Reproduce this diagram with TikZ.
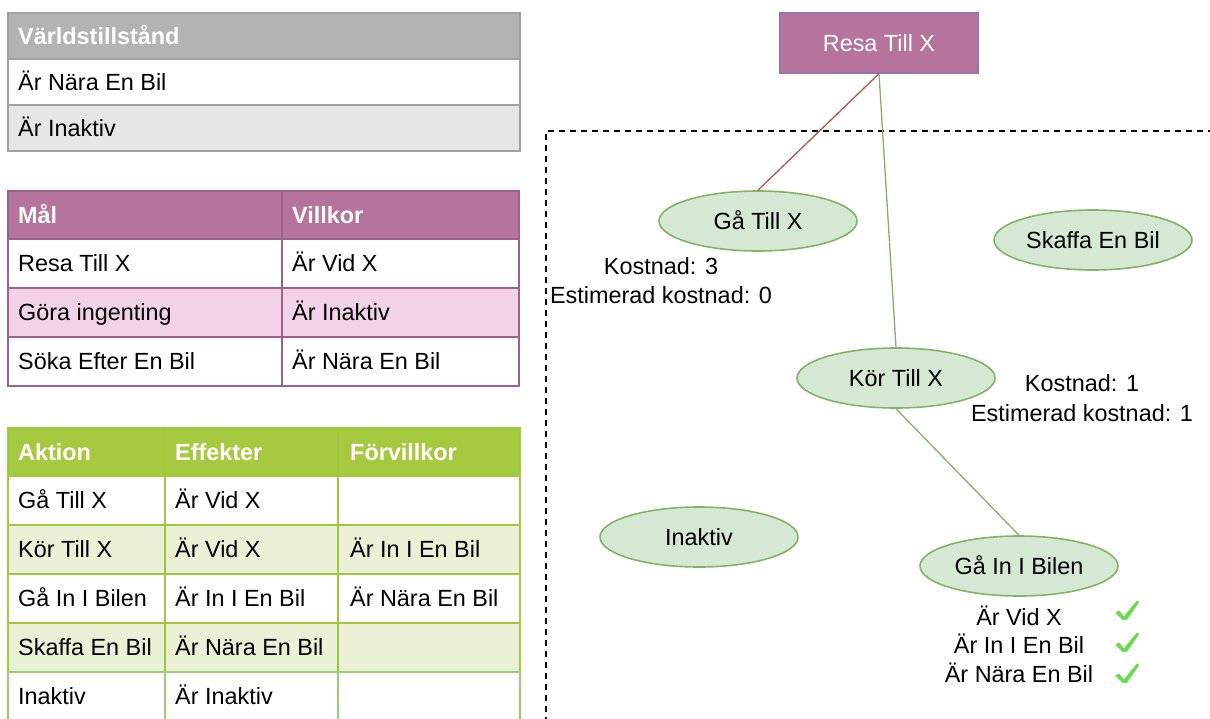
\documentclass[tikz,border=0pt]{standalone}
\usepackage{fontspec}
\setmainfont{Liberation Sans}
\usetikzlibrary{shapes.geometric}
\definecolor{hdgray}{HTML}{B3B3B3}
\definecolor{rowgray}{HTML}{E6E6E6}
\definecolor{bdgray}{HTML}{A0A0A0}
\definecolor{mauve}{HTML}{B5739D}
\definecolor{mauvebd}{HTML}{9E6189}
\definecolor{pinkrow}{HTML}{F2D2E6}
\definecolor{grhead}{HTML}{A6C93F}
\definecolor{grrow}{HTML}{EBF1D6}
\definecolor{grbd}{HTML}{9FC93A}
\definecolor{grbdlight}{HTML}{97D077}
\definecolor{ellfill}{HTML}{D5E8D4}
\definecolor{ellbd}{HTML}{82B366}
\definecolor{redline}{HTML}{B85450}
\definecolor{boxbd}{HTML}{9673A6}
\definecolor{checkgreen}{HTML}{66DD4C}
\tikzset{
  cell/.style={anchor=base west, inner sep=0pt},
  hcell/.style={cell, text=white, font=\fontsize{23.4}{27}\selectfont\bfseries},
  stateell/.style={ellipse, draw=ellbd, fill=ellfill, line width=1.6pt, minimum width=198pt, minimum height=60pt, inner sep=0pt, text height=16pt, text depth=0pt},
  lbl/.style={inner sep=0pt, text height=16pt, text depth=0pt, align=center},
  conn/.style={line width=1.3pt},
  chk/.style={fill=checkgreen, draw=checkgreen, line width=0.8pt, line join=round}
}
\begin{document}
\begin{tikzpicture}[x=1pt,y=-1pt,font=\fontsize{23.4}{27}\selectfont]
\useasboundingbox (0,0) rectangle (1210,718);
% ---------- Table 1 ----------
\fill[hdgray] (8,13) rectangle (520,59);
\fill[white] (8,59) rectangle (520,105);
\fill[rowgray] (8,105) rectangle (520,151);
\draw[bdgray, line width=2pt] (8,13) rectangle (520,151) (8,59) -- (520,59) (8,105) -- (520,105);
\node[hcell] (w0) at (18,44) {Världstillstånd};
\node[cell] (w1) at (18,90) {Är Nära En Bil};
\node[cell] (w2) at (18,136) {Är Inaktiv};
% ---------- Table 2 ----------
\fill[mauve] (8,191) rectangle (519,239);
\fill[white] (8,239) rectangle (519,288);
\fill[pinkrow] (8,288) rectangle (519,337);
\fill[white] (8,337) rectangle (519,386);
\draw[mauvebd, line width=2pt] (8,191) rectangle (519,386)
  (8,239) -- (519,239) (8,288) -- (519,288) (8,337) -- (519,337) (282,191) -- (282,386);
\node[hcell] (m0a) at (18,223) {Mål};
\node[hcell] (m0b) at (292,223) {Villkor};
\node[cell] (m1a) at (18,271.5) {Resa Till X};
\node[cell] (m1b) at (292,271.5) {Är Vid X};
\node[cell] (m2a) at (18,320.5) {Göra ingenting};
\node[cell] (m2b) at (292,320.5) {Är Inaktiv};
\node[cell] (m3a) at (18,369.5) {Söka Efter En Bil};
\node[cell] (m3b) at (292,369.5) {Är Nära En Bil};
% ---------- Table 3 ----------
\fill[grhead] (8,428) rectangle (520,476);
\fill[white] (8,476) rectangle (520,525);
\fill[grrow] (8,525) rectangle (520,574);
\fill[white] (8,574) rectangle (520,623);
\fill[grrow] (8,623) rectangle (520,672);
\fill[white] (8,672) rectangle (520,720);
\draw[grbdlight, line width=2pt] (8,672) -- (8,720) (165,672) -- (165,720) (338,672) -- (338,720) (520,672) -- (520,720) (8,672) -- (520,672);
\draw[grbd, line width=2pt] (8,672) -- (8,428) -- (520,428) -- (520,672)
  (8,476) -- (520,476) (8,525) -- (520,525) (8,574) -- (520,574) (8,623) -- (520,623)
  (165,428) -- (165,671) (338,428) -- (338,671);
\node[hcell] (a0a) at (18,460) {Aktion};
\node[hcell] (a0b) at (175,460) {Effekter};
\node[hcell] (a0c) at (350,460) {Förvillkor};
\node[cell] (a1a) at (18,508.5) {Gå Till X};
\node[cell] (a1b) at (175,508.5) {Är Vid X};
\node[cell] (a2a) at (18,557.5) {Kör Till X};
\node[cell] (a2b) at (175,557.5) {Är Vid X};
\node[cell] (a2c) at (350,557.5) {Är In I En Bil};
\node[cell] (a3a) at (18,606.5) {Gå In I Bilen};
\node[cell] (a3b) at (175,606.5) {Är In I En Bil};
\node[cell] (a3c) at (350,606.5) {Är Nära En Bil};
\node[cell] (a4a) at (18,655.5) {Skaffa En Bil};
\node[cell] (a4b) at (175,655.5) {Är Nära En Bil};
\node[cell] (a5a) at (18,704.5) {Inaktiv};
\node[cell] (a5b) at (175,704.5) {Är Inaktiv};
% ---------- Dashed region ----------
\draw[black, line width=1.6pt, dash pattern=on 6pt off 5pt] (1214,131) -- (546,131) -- (546,722);
% ---------- Tree ----------
\node[draw=boxbd, fill=mauve, line width=1.3pt, minimum width=198pt, minimum height=60pt, inner sep=0pt, text=white, text height=16pt, text depth=0pt] (resa) at (879,43) {Resa Till X};
\node[stateell] (ga) at (758,221) {Gå Till X};
\node[stateell] (skaffa) at (1093,240) {Skaffa En Bil};
\node[stateell] (kor) at (896,378) {Kör Till X};
\node[stateell] (inaktiv) at (699,537) {Inaktiv};
\node[stateell] (gain) at (1019,566) {Gå In I Bilen};
\draw[conn, redline] (resa.south) -- (ga.north);
\draw[conn, ellbd] (resa.south) -- (kor.north);
\draw[conn, ellbd] (kor.south) -- (gain.north);
\node[lbl] (k3) at (661,266) {Kostnad: 3};
\node[lbl] (e0) at (661,295) {Estimerad kostnad: 0};
\node[lbl] (k1) at (1082,383) {Kostnad: 1};
\node[lbl] (e1) at (1082,413) {Estimerad kostnad: 1};
\node[lbl] (c1) at (1019,617) {Är Vid X};
\node[lbl] (c2) at (1019,645) {Är In I En Bil};
\node[lbl] (c3) at (1019,674) {Är Nära En Bil};
\coordinate (ck1) at (1116,613);
\coordinate (ck2) at (1116,645);
\coordinate (ck3) at (1116,676);
\foreach \c in {ck1,ck2,ck3}
  \draw[chk] (\c) ++(0,0) -- ++(3,-2) -- ++(5,6) -- ++(13,-16) -- ++(1.5,1.5) -- ++(-12,17) -- ++(-3.5,0) -- cycle;
\end{tikzpicture}
\end{document}
